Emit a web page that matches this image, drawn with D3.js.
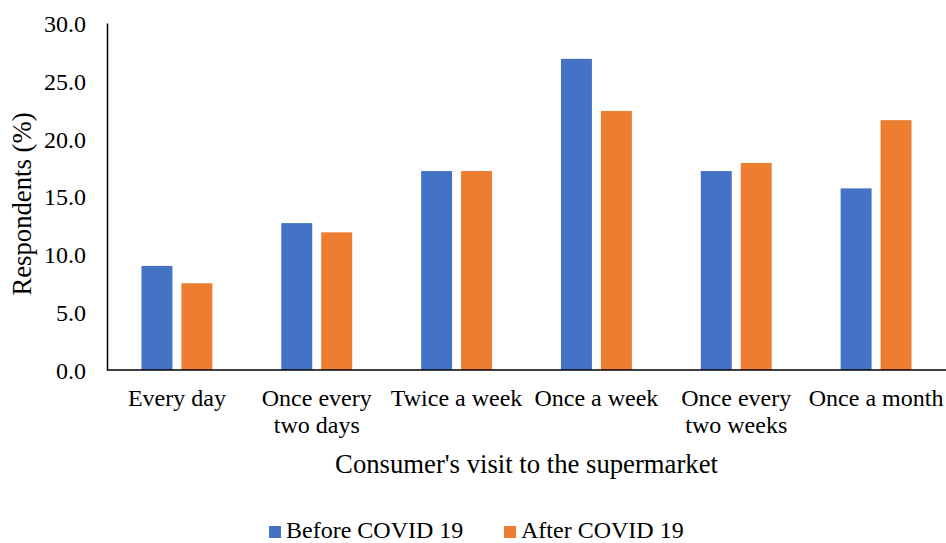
<!DOCTYPE html>
<html>
<head>
<meta charset="utf-8">
<script src="https://cdn.jsdelivr.net/npm/d3@7"></script>
<style>
  html, body { margin: 0; padding: 0; background: #fff; }
  svg { display: block; }
</style>
</head>
<body>
<svg id="chart" width="946" height="543"></svg>
<script>
// Visit frequency categories (label lines) and shares of respondents (%)
const categories = [
  ["Every day"],
  ["Once every", "two days"],
  ["Twice a week"],
  ["Once a week"],
  ["Once every", "two weeks"],
  ["Once a month"]
];
const seriesNames = ["Before COVID 19", "After COVID 19"];
const beforeCovid = [9.0, 12.7, 17.2, 26.9, 17.2, 15.7];
const afterCovid  = [7.5, 11.9, 17.2, 22.4, 17.9, 21.6];
const yTicks = [0, 5, 10, 15, 20, 25, 30];
const colors = ["#4472C4", "#ED7D31"];

const FONT = "'Liberation Serif', 'Times New Roman', serif";
const FS = "24px";
const FS_TITLE = "26.7px";

const svg = d3.select("#chart");
const margin = { left: 107, right: 0, top: 23, bottom: 173 };
const W = 946, H = 543;
const plotW = W - margin.left - margin.right;
const plotH = H - margin.top - margin.bottom;
const g = svg.append("g").attr("transform", `translate(${margin.left},${margin.top})`);

const keys = categories.map((c, i) => i);
const x0 = d3.scaleBand().domain(keys).range([0, plotW])
  .paddingInner(0.493).paddingOuter(0.2465);
const x1 = d3.scaleBand().domain(seriesNames).range([0, x0.bandwidth()]).paddingInner(0.225);
const y = d3.scaleLinear().domain([0, 30]).range([plotH, 0]);

const rows = keys.map(i => ({ i, values: [beforeCovid[i], afterCovid[i]] }));

// Bars
const groups = g.selectAll("g.cat").data(rows).join("g")
  .attr("class", "cat")
  .attr("transform", d => `translate(${x0(d.i)},0)`);
groups.selectAll("rect").data(d => d.values.map((v, k) => ({ v, k }))).join("rect")
  .attr("x", d => x1(seriesNames[d.k]))
  .attr("width", x1.bandwidth())
  .attr("y", d => y(d.v))
  .attr("height", d => plotH - y(d.v))
  .attr("fill", d => colors[d.k]);

// Y axis
const yAxis = g.append("g")
  .call(d3.axisLeft(y).tickValues(yTicks).tickFormat(d3.format(".1f")).tickSize(0).tickPadding(21));
yAxis.attr("font-family", FONT).attr("font-size", FS);
yAxis.select(".domain").attr("stroke", "#000").attr("stroke-width", 1.5);
yAxis.selectAll("text")
  .style("font-family", FONT).style("font-size", FS)
  .attr("fill", "#000").attr("dy", "0.35em");

// X axis line
g.append("line").attr("x1", 0).attr("x2", plotW).attr("y1", plotH).attr("y2", plotH)
  .attr("stroke", "#000").attr("stroke-width", 1.5);

// Category labels (multi-line)
const xl = g.append("g").selectAll("text").data(rows).join("text")
  .attr("text-anchor", "middle")
  .attr("x", d => x0(d.i) + x0.bandwidth() / 2)
  .attr("y", plotH + 36)
  .style("font-family", FONT).style("font-size", FS);
xl.selectAll("tspan").data(d => categories[d.i]).join("tspan")
  .attr("x", function () { return d3.select(this.parentNode).attr("x"); })
  .attr("dy", (d, j) => j === 0 ? 0 : 27)
  .text(d => d);

// Axis titles
svg.append("text")
  .attr("x", margin.left + plotW / 2).attr("y", 473)
  .attr("text-anchor", "middle")
  .style("font-family", FONT).style("font-size", FS_TITLE)
  .text("Consumer's visit to the supermarket");
svg.append("text")
  .attr("transform", `translate(31,204) rotate(-90)`)
  .attr("text-anchor", "middle")
  .style("font-family", FONT).style("font-size", FS_TITLE)
  .text("Respondents (%)");

// Legend
const legendX = [269, 504];
const leg = svg.append("g").selectAll("g").data(seriesNames).join("g")
  .attr("transform", (d, k) => `translate(${legendX[k]},526)`);
leg.append("rect").attr("width", 12).attr("height", 12).attr("fill", (d, k) => colors[k]);
leg.append("text").attr("x", 17).attr("y", 12)
  .style("font-family", FONT).style("font-size", FS)
  .text(d => d);
</script>
</body>
</html>
